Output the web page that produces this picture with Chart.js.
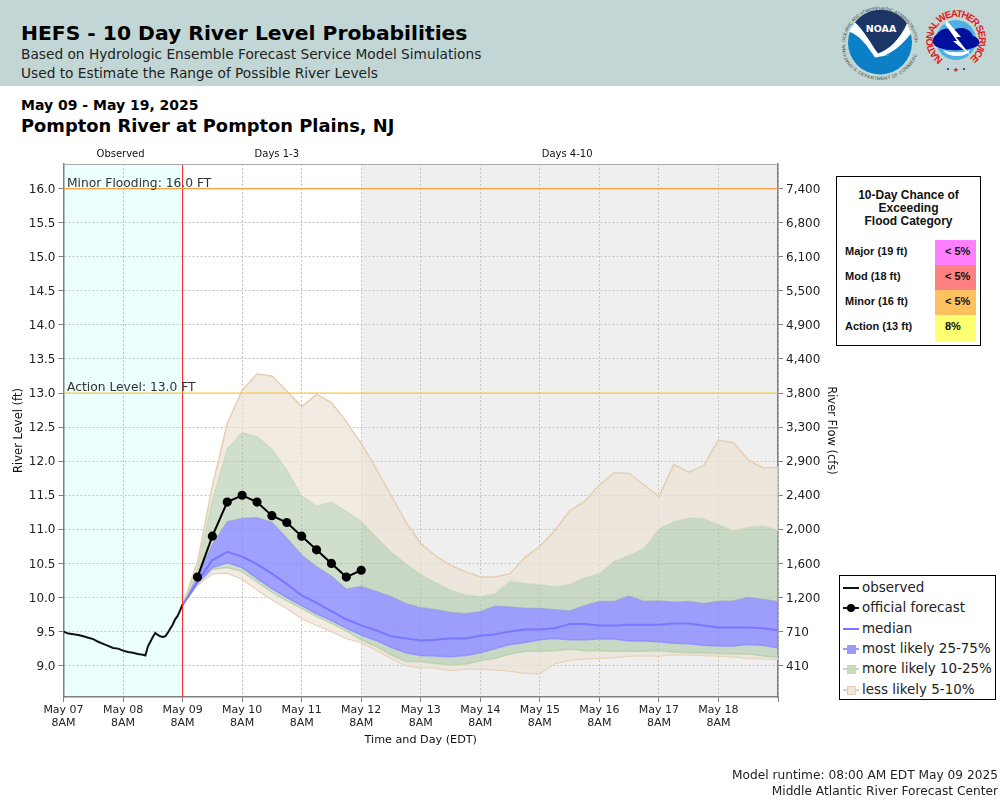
<!DOCTYPE html>
<html>
<head>
<meta charset="utf-8">
<title>HEFS - 10 Day River Level Probabilities</title>
<script src="https://cdn.jsdelivr.net/npm/chart.js@4/dist/chart.umd.min.js"></script>
<style>
  html, body { margin: 0; padding: 0; background: #fff; }
  #page { position: relative; width: 1000px; height: 800px; overflow: hidden; font-family: "DejaVu Sans", sans-serif; color: #000; }
  #band { position: absolute; left: 0; top: 0; width: 1000px; height: 86px; background: #c2d7d5; }
  #page canvas { position: absolute; left: 0; top: 0; }
  .txt { position: absolute; white-space: nowrap; }
  #logos { position: absolute; left: 800px; top: 0; }
  /* flood category box */
  #flood { position: absolute; left: 836px; top: 176px; width: 143px; height: 168px; border: 1px solid #000; background: #fff; font-family: "Liberation Sans", sans-serif; font-weight: bold; color: #111; }
  #flood .head { position: absolute; left: 0; top: 12px; width: 100%; text-align: center; font-size: 12px; line-height: 13px; }
  #flood .lab { position: absolute; left: 8px; font-size: 11px; line-height: 23px; }
  #flood .cell { position: absolute; left: 98px; width: 41px; height: 25px; font-size: 11px; line-height: 23px; padding-left: 10px; box-sizing: border-box; }
  /* legend box */
  #legend { position: absolute; left: 839px; top: 575px; width: 155px; height: 123px; border: 1px solid #000; background: #fff; }
  #legend .row { position: absolute; left: 3px; height: 20px; width: 150px; }
  #legend .row span { position: absolute; left: 19px; top: 0; font-size: 13.45px; line-height: 20px; color: #222; white-space: nowrap; }
  #legend .line { position: absolute; left: 0; top: 9px; width: 16px; height: 2px; }
  #legend .box { position: absolute; left: 4px; top: 6px; width: 7px; height: 7px; }
  #legend .dot { position: absolute; left: 4px; top: 6px; width: 8px; height: 8px; border-radius: 50%; background: #000; }
</style>
</head>
<body>
<div id="page">
  <div id="band"></div>
  <div class="txt" style="left:21px;top:21px;font-size:20.3px;font-weight:bold">HEFS - 10 Day River Level Probabilities</div>
  <div class="txt" style="left:21px;top:46px;font-size:13.73px;color:#222">Based on Hydrologic Ensemble Forecast Service Model Simulations</div>
  <div class="txt" style="left:21px;top:65px;font-size:13.73px;color:#222">Used to Estimate the Range of Possible River Levels</div>
  <div class="txt" style="left:21px;top:97px;font-size:14px;font-weight:bold">May 09 - May 19, 2025</div>
  <div class="txt" style="left:21px;top:115px;font-size:17.85px;font-weight:bold">Pompton River at Pompton Plains, NJ</div>

  <svg id="logos" width="200" height="86" viewBox="0 0 200 86">
    <defs>
      <path id="noaaTop" d="M51,64.5 A35,35 0 1,1 109,64.5"/>
      <path id="noaaBot" d="M47,54.5 A36,36 0 0,0 113,54.5"/>
      <path id="nwsArc" d="M143.3,59.1 A23,23 0 1,1 168.7,59.1"/>
    </defs>
    <text font-size="4.6" fill="#444" font-family="Liberation Sans"><textPath href="#noaaTop" textLength="128" lengthAdjust="spacing">NATIONAL OCEANIC AND ATMOSPHERIC ADMINISTRATION</textPath></text>
    <text font-size="4.6" fill="#444" font-family="Liberation Sans" dy="4"><textPath href="#noaaBot" startOffset="10">U.S. DEPARTMENT OF COMMERCE</textPath></text>
    <g transform="translate(80,42.5)">
      <circle r="32" fill="#0b80c6"/>
      <path d="M-25,-20 A32,32 0 0,1 27,-19 C20,-3 8,8 -2,11 C-8,3 -16,-12 -25,-20Z" fill="#1d3565"/>
      <path d="M-31,-11 L-25,-20 C-16,-12 -8,3 -2,11 C8,8 20,-3 27,-19 L31,-9 C22,3 12,10 4,13 L12,12 L-5,15 C-14,2 -20,-7 -31,-11Z" fill="#fff"/>
      <text x="1" y="-11" text-anchor="middle" font-size="9.5" font-weight="bold" fill="#fff" font-family="DejaVu Sans">NOAA</text>
    </g>
    <text font-size="10" font-weight="bold" fill="#e02020" font-family="Liberation Sans"><textPath href="#nwsArc" textLength="116" lengthAdjust="spacing">NATIONAL WEATHER SERVICE</textPath></text>
    <g transform="translate(156,40)">
      <circle r="20" fill="#4fb0e4"/>
      <path d="M-19,-6 C-14,-13 -6,-12 -2,-10 C4,-14 14,-12 17,-4 C25,-2 26,6 17,8 C8,11 -8,11 -16,8 C-25,6 -25,-2 -19,-6Z" fill="#00109c"/>
      <path d="M-13,10 C-6,13 8,13 14,10 C11,18 -8,18 -13,10Z" fill="#fff"/>
      <path d="M-9,-19 L5,-3 L0,-3 L15,16 L-3,1 L1,1 L-11,-16Z" fill="#fff"/>
      <text x="0" y="32" text-anchor="middle" font-size="7" fill="#c02020">★</text>
      <circle cx="-8" cy="29" r="1" fill="#1020a0"/><circle cx="8" cy="29" r="1" fill="#1020a0"/>
    </g>
  </svg>

  <canvas id="grafico" width="1000" height="800"></canvas>

  <div id="flood"><div class="head">10-Day Chance of<br>Exceeding<br>Flood Category</div></div>
  <div id="legend"></div>

  <div class="txt" style="right:2px;top:768px;font-size:12.2px;color:#222">Model runtime: 08:00 AM EDT May 09 2025</div>
  <div class="txt" style="right:2px;top:784px;font-size:12.2px;color:#222">Middle Atlantic River Forecast Center</div>
</div>

<script>
// ============================
// DATA (river level in ft)
// ============================
const dayLabels = ['May 07', 'May 08', 'May 09', 'May 10', 'May 11', 'May 12', 'May 13', 'May 14', 'May 15', 'May 16', 'May 17', 'May 18', ''];
const flowLabels = ['410', '710', '1,200', '1,600', '2,000', '2,400', '2,900', '3,300', '3,800', '4,400', '4,900', '5,500', '6,100', '6,800', '7,400'];

// observed: hours after May 07 8AM
const obsHours = [0, 2, 4, 6, 8, 10, 12, 14, 16, 18, 20, 22, 24, 26, 28, 30, 32, 33, 34, 35, 36, 37, 38, 39, 40, 41, 42, 43, 44, 45, 46, 47, 48];
const observed = [9.50, 9.47, 9.46, 9.45, 9.43, 9.41, 9.39, 9.35, 9.32, 9.29, 9.26, 9.25, 9.22, 9.20, 9.19, 9.17, 9.16, 9.15, 9.28, 9.35, 9.42, 9.48, 9.45, 9.43, 9.42, 9.43, 9.48, 9.54, 9.60, 9.68, 9.73, 9.81, 9.90];

// forecast every 6 hours from May 09 8AM
const official = [null, 10.3, 10.9, 11.4, 11.5, 11.4, 11.2, 11.1, 10.9, 10.7, 10.5, 10.3, 10.4];
const p95 = [9.89, 10.52, 11.63, 12.55, 13.04, 13.28, 13.25, 13.03, 12.80, 12.98, 12.86, 12.58, 12.26, 11.89, 11.50, 11.11, 10.79, 10.61, 10.47, 10.38, 10.30, 10.30, 10.35, 10.59, 10.75, 10.98, 11.27, 11.41, 11.65, 11.83, 11.82, 11.65, 11.48, 11.95, 11.84, 11.93, 12.31, 12.27, 12.02, 11.90, 11.91];
const p90 = [9.89, 10.43, 11.43, 12.18, 12.42, 12.36, 12.18, 11.87, 11.49, 11.34, 11.40, 11.26, 11.12, 10.89, 10.67, 10.50, 10.34, 10.22, 10.11, 10.04, 10.01, 10.06, 10.24, 10.21, 10.19, 10.16, 10.19, 10.29, 10.35, 10.53, 10.62, 10.72, 11.01, 11.11, 11.17, 11.16, 11.07, 10.98, 11.03, 11.05, 10.99];
const p75 = [9.89, 10.30, 10.77, 11.11, 11.16, 11.17, 11.10, 10.87, 10.62, 10.45, 10.31, 10.12, 10.16, 10.09, 10.01, 9.91, 9.85, 9.82, 9.78, 9.76, 9.79, 9.87, 9.86, 9.84, 9.84, 9.82, 9.80, 9.88, 9.94, 9.94, 10.02, 9.94, 9.95, 9.93, 9.94, 9.91, 9.94, 9.95, 10.00, 9.97, 9.94];
const median = [9.89, 10.23, 10.55, 10.67, 10.60, 10.49, 10.35, 10.20, 10.03, 9.92, 9.80, 9.68, 9.59, 9.52, 9.43, 9.40, 9.37, 9.38, 9.40, 9.40, 9.44, 9.46, 9.50, 9.53, 9.53, 9.55, 9.61, 9.61, 9.59, 9.59, 9.60, 9.60, 9.60, 9.62, 9.62, 9.59, 9.56, 9.56, 9.56, 9.55, 9.52];
const p25 = [9.89, 10.21, 10.44, 10.51, 10.44, 10.28, 10.13, 10.00, 9.88, 9.76, 9.66, 9.55, 9.45, 9.37, 9.27, 9.19, 9.15, 9.14, 9.13, 9.15, 9.19, 9.25, 9.31, 9.34, 9.38, 9.40, 9.38, 9.38, 9.39, 9.39, 9.36, 9.36, 9.35, 9.33, 9.32, 9.30, 9.29, 9.29, 9.31, 9.30, 9.26];
const p10 = [9.89, 10.20, 10.41, 10.44, 10.38, 10.23, 10.08, 9.95, 9.84, 9.72, 9.62, 9.51, 9.38, 9.28, 9.16, 9.06, 9.06, 9.03, 9.01, 9.02, 9.07, 9.11, 9.17, 9.21, 9.21, 9.22, 9.24, 9.22, 9.22, 9.21, 9.21, 9.21, 9.22, 9.20, 9.19, 9.19, 9.18, 9.17, 9.17, 9.14, 9.12];
const p5 = [9.89, 10.18, 10.35, 10.36, 10.27, 10.11, 9.97, 9.84, 9.69, 9.59, 9.50, 9.40, 9.34, 9.23, 9.11, 9.00, 8.97, 8.97, 8.93, 8.95, 8.95, 8.94, 8.92, 8.89, 8.88, 9.03, 9.08, 9.10, 9.11, 9.12, 9.14, 9.15, 9.14, 9.16, 9.16, 9.15, 9.14, 9.13, 9.11, 9.10, 9.09];

const floodLabels = ['Major (19 ft)', 'Mod (18 ft)', 'Minor (16 ft)', 'Action (13 ft)'];
const floodChance = ['< 5%', '< 5%', '< 5%', '8%'];
const floodColors = ['#ff80ff', '#ff8080', '#ffc060', '#ffff70'];

// CORES
const corTan = '#e6ceb2', fillTan = 'rgba(236,226,213,.7)';
const corVerde = '#c4d9b8', fillVerde = 'rgba(169,198,162,.56)';
const corAzul = '#9a9cf8', fillAzul = 'rgba(136,136,255,.8)';
const corMediana = '#7878ff';

const yMin = 8.54, yMax = 16.36;

// ============================
// HELPERS
// ============================
const serie = vals => vals.map((v, i) => ({ x: 48 + 6 * i, y: v }));

function linha(label, data, color, width, extra) {
  return Object.assign({ label, data, borderColor: color, borderWidth: width, pointRadius: 0, fill: false, tension: 0 }, extra || {});
}

// shading, top captions and threshold captions
const fundoPlugin = {
  id: 'fundo',
  beforeDraw(chart) {
    const { ctx, chartArea: a, scales: { x } } = chart;
    ctx.save();
    ctx.fillStyle = '#ebffff';
    ctx.fillRect(a.left, a.top, x.getPixelForValue(48) - a.left, a.height);
    ctx.fillStyle = '#efefef';
    ctx.fillRect(x.getPixelForValue(120), a.top, a.right - x.getPixelForValue(120), a.height);
    ctx.restore();
  },
  afterDraw(chart) {
    const { ctx, chartArea: a, scales: { x, y } } = chart;
    ctx.save();
    ctx.strokeStyle = '#aaa';
    ctx.lineWidth = 1;
    ctx.beginPath();
    ctx.moveTo(a.left, a.top + 0.5);
    ctx.lineTo(a.right, a.top + 0.5);
    ctx.stroke();
    ctx.fillStyle = '#111';
    ctx.font = '10px "DejaVu Sans"';
    ctx.textAlign = 'center';
    ctx.fillText('Observed', x.getPixelForValue(23), 157);
    ctx.fillText('Days 1-3', x.getPixelForValue(86), 157);
    ctx.fillText('Days 4-10', x.getPixelForValue(203), 157);
    ctx.fillStyle = '#333';
    ctx.font = '12.3px "DejaVu Sans"';
    ctx.textAlign = 'left';
    ctx.fillText('Minor Flooding: 16.0 FT', a.left + 3.5, y.getPixelForValue(16) - 2);
    ctx.fillText('Action Level: 13.0 FT', a.left + 3.5, y.getPixelForValue(13) - 2);
    ctx.restore();
  }
};

// ============================
// CHART
// ============================
const grade = { color: '#c4c4c4', lineWidth: 1, tickColor: '#808080', tickLength: 5, tickBorderDash: [] };
const borda = { color: '#808080', width: 1.5, dash: [2, 2] };
const fonteTick = { family: 'DejaVu Sans', size: 12 };

new Chart(document.getElementById('grafico'), {
  type: 'line',
  plugins: [fundoPlugin],
  data: {
    datasets: [
      linha('limite menor', [{ x: 0, y: 16 }, { x: 288, y: 16 }], '#ffa040', 1.2),
      linha('limite acao', [{ x: 0, y: 13 }, { x: 288, y: 13 }], '#f2c840', 1.2),
      linha('analise', [{ x: 48, y: yMin }, { x: 48, y: yMax }], '#ff2020', 1),
      linha('official forecast', serie(official), '#000', 2, { pointRadius: 3.6, pointBackgroundColor: '#000', pointBorderColor: '#000', spanGaps: false }),
      linha('observed', obsHours.map((h, i) => ({ x: h, y: observed[i] })), '#111', 2),
      linha('median', serie(median), corMediana, 2),
      linha('p95', serie(p95), corTan, 1.5, { fill: '+1', backgroundColor: fillTan }),
      linha('p90', serie(p90), corVerde, 1.5, { fill: '+1', backgroundColor: fillVerde }),
      linha('p75', serie(p75), corAzul, 1.5, { fill: '+1', backgroundColor: fillAzul }),
      linha('p25', serie(p25), corAzul, 1.5, { fill: '+1', backgroundColor: fillVerde }),
      linha('p10', serie(p10), corVerde, 1.5, { fill: '+1', backgroundColor: fillTan }),
      linha('p5', serie(p5), corTan, 1.5)
    ]
  },
  options: {
    responsive: false,
    animation: false,
    layout: { padding: { left: 12, top: 164, right: 162, bottom: 53 } },
    plugins: { legend: { display: false }, tooltip: { enabled: false } },
    scales: {
      x: {
        type: 'linear', min: 0, max: 288,
        afterFit(s) { s.height = 50; },
        border: borda,
        grid: grade,
        title: { display: true, text: 'Time and Day (EDT)', color: '#111', font: { family: 'DejaVu Sans', size: 11.2 }, padding: 0 },
        ticks: {
          stepSize: 24, autoSkip: false, maxRotation: 0, color: '#222', padding: 2,
          font: { family: 'DejaVu Sans', size: 11, lineHeight: 1.15 },
          callback: v => dayLabels[v / 24] ? [dayLabels[v / 24], '8AM'] : ''
        }
      },
      y: {
        min: yMin, max: yMax, position: 'left',
        afterFit(s) { s.width = 51.5; },
        border: borda,
        grid: grade,
        title: { display: true, text: 'River Level (ft)', color: '#111', font: { family: 'DejaVu Sans', size: 11.5 }, padding: 0 },
        ticks: { stepSize: 0.5, includeBounds: false, labelOffset: 1, color: '#222', font: fonteTick, padding: 3, callback: v => v.toFixed(1) }
      },
      y2: {
        min: yMin, max: yMax, position: 'right',
        afterFit(s) { s.width = 60; },
        border: { color: '#808080', width: 1.5 },
        grid: { drawOnChartArea: false, tickColor: '#808080', tickLength: 5 },
        title: { display: true, text: 'River Flow (cfs)', color: '#111', font: { family: 'DejaVu Sans', size: 11.5 }, padding: 0 },
        ticks: { stepSize: 0.5, includeBounds: false, labelOffset: 1, color: '#222', font: fonteTick, padding: 3, callback: v => flowLabels[Math.round((v - 9) * 2)] }
      }
    }
  }
});

// ============================
// FLOOD CATEGORY BOX
// ============================
const flood = document.getElementById('flood');
floodLabels.forEach((t, i) => {
  const topo = 63 + 25 * i;
  flood.innerHTML += `<div class="lab" style="top:${topo}px">${t}</div>`;
  flood.innerHTML += `<div class="cell" style="top:${topo}px;background:${floodColors[i]}${i === 3 ? ';height:26px' : ''}">${floodChance[i].replace('<', '&lt;')}</div>`;
});

// ============================
// LEGEND
// ============================
const legendRows = [
  { t: 'observed', line: '#111' },
  { t: 'official forecast', line: '#111', dot: true },
  { t: 'median', line: corMediana },
  { t: 'most likely 25-75%', line: corAzul, box: '#9a9cf8' },
  { t: 'more likely 10-25%', line: corVerde, box: '#c8dcc0' },
  { t: 'less likely 5-10%', line: corTan, box: '#f0e6da' }
];
const legend = document.getElementById('legend');
legendRows.forEach((r, i) => {
  let h = `<div class="line" style="background:${r.line}"></div>`;
  if (r.dot) h += '<div class="dot"></div>';
  if (r.box) h += `<div class="box" style="background:${r.box};border:1px solid ${r.line}"></div>`;
  legend.innerHTML += `<div class="row" style="top:${2 + i * 20.3}px">${h}<span>${r.t}</span></div>`;
});
</script>
</body>
</html>
